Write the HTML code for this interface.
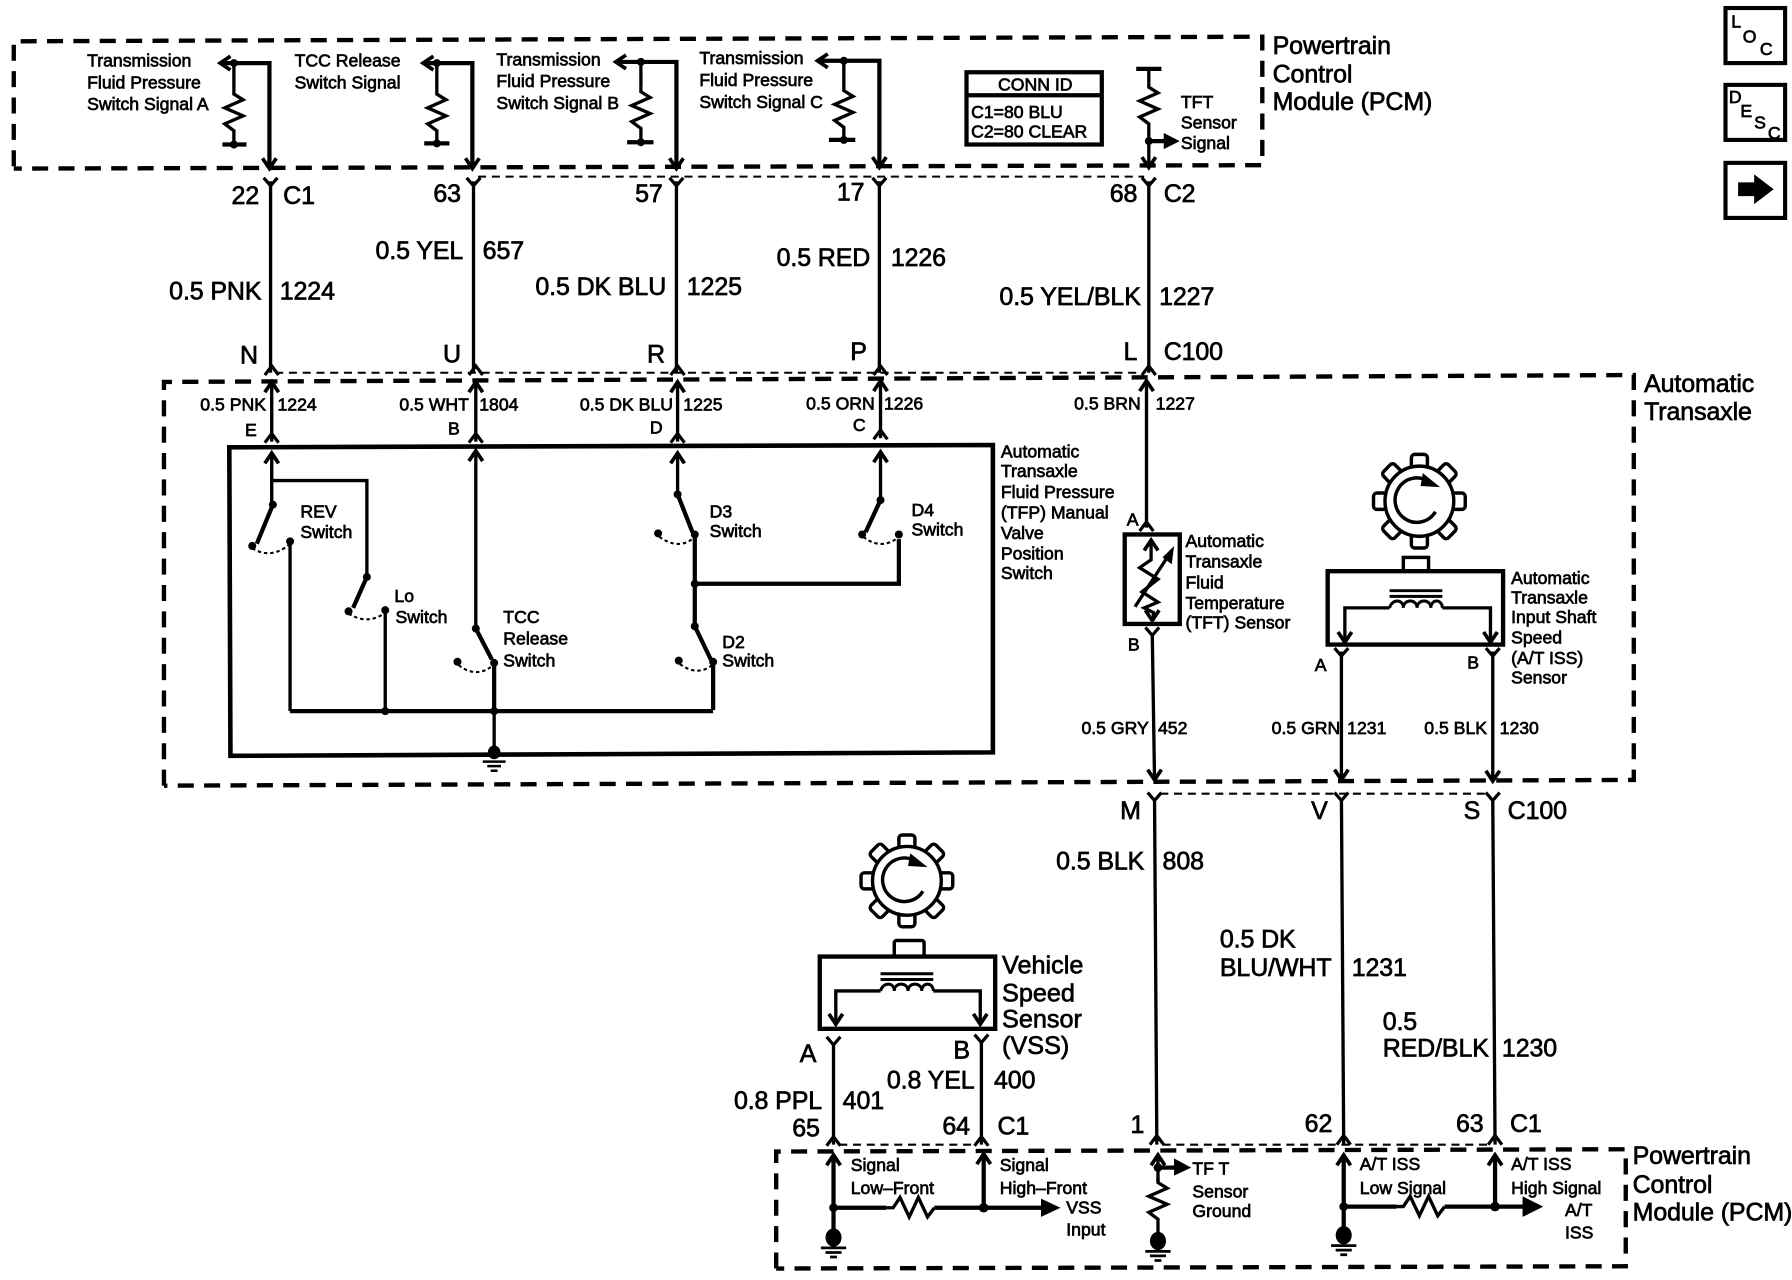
<!DOCTYPE html>
<html lang="en">
<head>
<meta charset="utf-8">
<title>Transmission wiring diagram</title>
<style>
html,body{margin:0;padding:0;background:#fff;width:1792px;height:1280px;overflow:hidden}
svg{display:block}
text{font-family:"Liberation Sans",sans-serif;fill:#000;stroke:#000;stroke-width:.6}
.s{font-size:15.4px}
.m{font-size:21.8px;letter-spacing:-.1px}
.v{font-size:22px}
.e{text-anchor:end}
.w{fill:none;stroke:#000;stroke-width:2.9;stroke-linejoin:miter}
.t{fill:none;stroke:#000;stroke-width:3.7}
.d{fill:none;stroke:#000;stroke-width:3.8;stroke-dasharray:14 9}
.h{fill:none;stroke:#000;stroke-width:1.8;stroke-dasharray:7 5}
.a{fill:none;stroke:#000;stroke-width:1.8;stroke-dasharray:3 2.5}
</style>
</head>
<body>
<svg xmlns="http://www.w3.org/2000/svg" width="1792" height="1280" viewBox="0 0 1563 1116" preserveAspectRatio="none">
<defs>
<path id="Y" d="M-6-9 0-2 6-9" fill="none" stroke="#000" stroke-width="2.8"/>
<path id="U" d="M-6 5 0-3 6 5" fill="none" stroke="#000" stroke-width="2.8"/>
<path id="dn" d="M-6-9 0 0 6-9" fill="none" stroke="#000" stroke-width="3.2"/>
<path id="up" d="M-6 9 0 0 6 9" fill="none" stroke="#000" stroke-width="3.2"/>
<path id="lf" d="M9-6 0 0 9 6" fill="none" stroke="#000" stroke-width="3.2"/>
<path id="R" d="M0 0 0 4 8 9-8 16 8 23-8 30 0 36 0 48" fill="none" stroke="#000" stroke-width="2.9"/>
<path id="RH" d="M0 0 6 0 12-9 20 8 28-9 36 8 42 0" fill="none" stroke="#000" stroke-width="2.9"/>
<g id="gnd"><ellipse cx="0" cy="0" rx="7" ry="8"/><path d="M-11 9H11M-7 13H7M-3 17H3" stroke="#000" stroke-width="2.4" fill="none"/></g>
<g id="gear" fill="#fff" stroke="#000" stroke-width="3">
<rect x="-7" y="-40" width="14" height="12" rx="3"/>
<rect x="-7" y="-40" width="14" height="12" rx="3" transform="rotate(45)"/>
<rect x="-7" y="-40" width="14" height="12" rx="3" transform="rotate(90)"/>
<rect x="-7" y="-40" width="14" height="12" rx="3" transform="rotate(135)"/>
<rect x="-7" y="-40" width="14" height="12" rx="3" transform="rotate(180)"/>
<rect x="-7" y="-40" width="14" height="12" rx="3" transform="rotate(225)"/>
<rect x="-7" y="-40" width="14" height="12" rx="3" transform="rotate(270)"/>
<rect x="-7" y="-40" width="14" height="12" rx="3" transform="rotate(315)"/>
<circle r="30"/>
<path d="M14 9A19 19 0 1 1 8-17" fill="none"/>
<path d="M3-24 18-12 1-13Z" fill="#000" stroke="none"/>
</g>
<g id="coil" fill="none" stroke="#000" stroke-width="2.6">
<path d="M0-15H46M0-10H46" />
<path d="M0 0C2-8 12-8 12 0 12-8 24-8 24 0 24-8 36-8 36 0 36-8 46-8 46 0"/>
</g>
</defs>

<!-- dashed enclosures -->
<path class="d" d="M12 145V36L1101 32V144L12 147"/>
<path class="d" d="M143 685V333L1425 327V680L143 685"/>
<path class="d" d="M677 1106V1004L1418 1002V1104L677 1106"/>

<!-- thin connector dashes -->
<path class="h" d="M417 154H998"/>
<path class="h" d="M240 325H995"/>
<path class="h" d="M1012 692H1298"/>
<path class="h" d="M732 998H850M1014 998H1300"/>

<!-- top PCM internals -->
<path class="t" d="M192 55H235V146"/><use href="#lf" x="192" y="55"/><use href="#dn" x="235" y="147"/>
<circle cx="204" cy="55" r="3.5"/><path class="w" d="M204 55V78"/><use href="#R" x="204" y="78"/><path class="t" d="M194 126H215"/><circle cx="204" cy="126" r="3.5"/>

<path class="t" d="M369 55H412V146"/><use href="#lf" x="369" y="55"/><use href="#dn" x="412" y="147"/>
<circle cx="381" cy="55" r="3.5"/><path class="w" d="M381 55V78"/><use href="#R" x="381" y="78"/><path class="t" d="M370 125H392"/><circle cx="381" cy="125" r="3.5"/>

<path class="t" d="M537 54H590V146"/><use href="#lf" x="537" y="54"/><use href="#dn" x="590" y="147"/>
<circle cx="559" cy="54" r="3.5"/><path class="w" d="M559 54V76"/><use href="#R" x="559" y="76"/><path class="t" d="M547 124H570"/><circle cx="559" cy="124" r="3.5"/>

<path class="t" d="M713 53H767V146"/><use href="#lf" x="713" y="53"/><use href="#dn" x="767" y="146"/>
<circle cx="736" cy="53" r="3.5"/><path class="w" d="M736 53V75"/><use href="#R" x="736" y="75"/><path class="t" d="M723 122H746"/><circle cx="736" cy="122" r="3.5"/>

<path class="t" d="M991 60H1013"/><path class="w" d="M1002 60V72"/><use href="#R" x="1002" y="72"/><path class="w" d="M1002 120V146"/>
<use href="#dn" x="1002" y="146"/><circle cx="1002" cy="123" r="3.5"/><path class="t" d="M1002 123H1016"/><path d="M1015 116 1029 123 1015 130Z"/>

<rect class="t" x="843" y="63" width="118" height="63"/><path class="t" d="M843 83H961"/>
<text class="s" x="903" y="79" text-anchor="middle">CONN ID</text>
<text class="s" x="847" y="103">C1=80 BLU</text>
<text class="s" x="847" y="120">C2=80 CLEAR</text>

<text class="s" x="76" y="58">Transmission</text><text class="s" x="76" y="77">Fluid Pressure</text><text class="s" x="76" y="96">Switch Signal A</text>
<text class="s" x="257" y="58">TCC Release</text><text class="s" x="257" y="77">Switch Signal</text>
<text class="s" x="433" y="57">Transmission</text><text class="s" x="433" y="76">Fluid Pressure</text><text class="s" x="433" y="95">Switch Signal B</text>
<text class="s" x="610" y="56">Transmission</text><text class="s" x="610" y="75">Fluid Pressure</text><text class="s" x="610" y="94">Switch Signal C</text>
<text class="s" x="1030" y="94">TFT</text><text class="s" x="1030" y="112">Sensor</text><text class="s" x="1030" y="130">Signal</text>
<text class="m" x="1110" y="47">Powertrain</text><text class="m" x="1110" y="72">Control</text><text class="m" x="1110" y="96">Module (PCM)</text>

<!-- icon boxes -->
<rect x="1505" y="7" width="52" height="48" fill="none" stroke="#000" stroke-width="3.6"/>
<text class="s" x="1510" y="24">L</text><text class="s" x="1520" y="37">O</text><text class="s" x="1535" y="48">C</text>
<rect x="1505" y="74" width="52" height="48" fill="none" stroke="#000" stroke-width="3.6"/>
<text class="s" x="1508" y="90">D</text><text class="s" x="1518" y="102">E</text><text class="s" x="1530" y="112">S</text><text class="s" x="1542" y="121">C</text>
<rect x="1505" y="142" width="52" height="48" fill="none" stroke="#000" stroke-width="3.6"/>
<path d="M1516 159H1530V152L1547 165 1530 178V171H1516Z"/>

<!-- top wires -->
<path class="w" d="M236 158V325M413 158V325M590 158V325M767 158V325M1002 158V325"/>
<use href="#Y" x="236" y="164"/><use href="#Y" x="413" y="164"/><use href="#Y" x="590" y="164"/><use href="#Y" x="767" y="164"/><use href="#Y" x="1002" y="164"/>
<use href="#U" x="237" y="322"/><use href="#U" x="415" y="322"/><use href="#U" x="591" y="322"/><use href="#U" x="768" y="322"/><use href="#U" x="1002" y="322"/>

<text class="m e" x="226" y="178">22</text><text class="m" x="247" y="178">C1</text>
<text class="m e" x="402" y="176">63</text><text class="m e" x="578" y="176">57</text><text class="m e" x="754" y="175">17</text>
<text class="m e" x="992" y="176">68</text><text class="m" x="1015" y="176">C2</text>
<text class="m e" x="228" y="261">0.5 PNK</text><text class="m" x="244" y="261">1224</text>
<text class="m e" x="404" y="226">0.5 YEL</text><text class="m" x="421" y="226">657</text>
<text class="m e" x="581" y="257">0.5 DK BLU</text><text class="m" x="599" y="257">1225</text>
<text class="m e" x="759" y="232">0.5 RED</text><text class="m" x="777" y="232">1226</text>
<text class="m e" x="995" y="266">0.5 YEL/BLK</text><text class="m" x="1011" y="266">1227</text>
<text class="m e" x="225" y="317">N</text><text class="m e" x="402" y="316">U</text><text class="m e" x="580" y="316">R</text><text class="m e" x="756" y="314">P</text>
<text class="m e" x="992" y="314">L</text><text class="m" x="1015" y="314">C100</text>

<!-- transaxle upper wires -->
<path class="w" d="M237 333V385M415 333V385M591 333V385M768 333V382M1000 333V460"/>
<use href="#up" x="237" y="333"/><use href="#up" x="415" y="333"/><use href="#up" x="591" y="333"/><use href="#up" x="768" y="332"/><use href="#up" x="1000" y="332"/>
<use href="#U" x="237" y="381"/><use href="#U" x="415" y="381"/><use href="#U" x="591" y="381"/><use href="#U" x="768" y="378"/><use href="#U" x="1000" y="458"/>
<text class="s e" x="232" y="358">0.5 PNK</text><text class="s" x="242" y="358">1224</text>
<text class="s e" x="409" y="358">0.5 WHT</text><text class="s" x="418" y="358">1804</text>
<text class="s e" x="587" y="358">0.5 DK BLU</text><text class="s" x="596" y="358">1225</text>
<text class="s e" x="763" y="357">0.5 ORN</text><text class="s" x="771" y="357">1226</text>
<text class="s e" x="995" y="357">0.5 BRN</text><text class="s" x="1008" y="357">1227</text>
<text class="s e" x="224" y="380">E</text><text class="s e" x="401" y="379">B</text><text class="s e" x="578" y="378">D</text><text class="s e" x="755" y="376">C</text>

<!-- TFP switch box -->
<path d="M200 390 866 388V656L201 659Z" fill="none" stroke="#000" stroke-width="4"/>
<use href="#up" x="237" y="395"/><use href="#up" x="415" y="393"/><use href="#up" x="591" y="395"/><use href="#up" x="768" y="394"/>
<path class="w" d="M237 395V440M237 419H320V503M415 393V548M591 395V431M768 394V436"/>
<!-- REV -->
<circle cx="238" cy="440" r="3.5"/><path class="t" d="M238 440 224 474"/><circle cx="220" cy="476" r="3.5"/><circle cx="253" cy="472" r="3.5"/>
<path class="a" d="M220 478Q236 488 252 475"/><path class="w" d="M253 472V620"/>
<!-- Lo -->
<circle cx="320" cy="503" r="3.5"/><path class="t" d="M320 503 308 530"/><circle cx="304" cy="533" r="3.5"/><circle cx="336" cy="532" r="3.5"/>
<path class="a" d="M304 535Q320 545 335 535"/><path class="w" d="M336 532V620"/>
<!-- TCC -->
<circle cx="415" cy="548" r="3.5"/><path class="t" d="M415 548 429 575"/><circle cx="431" cy="578" r="3.5"/><circle cx="399" cy="577" r="3.5"/>
<path class="a" d="M400 580Q416 592 430 580"/><path class="t" d="M431 578V620"/><path class="w" d="M431 620V656"/>
<!-- D3 -->
<circle cx="591" cy="431" r="3.5"/><path class="t" d="M591 431 604 464"/><circle cx="606" cy="466" r="3.5"/><circle cx="574" cy="465" r="3.5"/>
<path class="a" d="M575 468Q592 480 605 469"/><path class="t" d="M606 466V546M606 509H784V470"/><circle cx="606" cy="509" r="3.5"/>
<!-- D4 -->
<circle cx="768" cy="436" r="3.5"/><path class="t" d="M768 436 755 464"/><circle cx="752" cy="466" r="3.5"/><circle cx="784" cy="466" r="3.5"/>
<path class="a" d="M753 468Q768 480 783 469"/>
<!-- D2 -->
<circle cx="606" cy="546" r="3.5"/><path class="t" d="M606 546 620 575"/><circle cx="622" cy="577" r="3.5"/><circle cx="592" cy="576" r="3.5"/>
<path class="a" d="M593 579Q608 590 621 580"/><path class="t" d="M622 577V619M253 620H622"/>
<circle cx="336" cy="620" r="3.5"/><circle cx="431" cy="620" r="3.5"/>
<ellipse cx="431" cy="656" rx="5.5" ry="6"/><path d="M421 664H441M425 668H437M428 672H434" stroke="#000" stroke-width="2.2" fill="none"/>

<text class="s" x="262" y="451">REV</text><text class="s" x="262" y="469">Switch</text>
<text class="s" x="344" y="525">Lo</text><text class="s" x="345" y="543">Switch</text>
<text class="s" x="439" y="543">TCC</text><text class="s" x="439" y="562">Release</text><text class="s" x="439" y="581">Switch</text>
<text class="s" x="619" y="451">D3</text><text class="s" x="619" y="468">Switch</text>
<text class="s" x="795" y="450">D4</text><text class="s" x="795" y="467">Switch</text>
<text class="s" x="630" y="565">D2</text><text class="s" x="630" y="581">Switch</text>
<text class="s" x="873" y="399">Automatic</text><text class="s" x="873" y="416">Transaxle</text><text class="s" x="873" y="434">Fluid Pressure</text><text class="s" x="873" y="452">(TFP) Manual</text><text class="s" x="873" y="470">Valve</text><text class="s" x="873" y="488">Position</text><text class="s" x="873" y="505">Switch</text>

<!-- TFT sensor -->
<rect x="981" y="466" width="48" height="78" fill="none" stroke="#000" stroke-width="3.8"/>
<use href="#up" x="1004" y="471"/><use href="#dn" x="1005" y="541"/>
<path class="w" d="M1004 471V488L994 495 1010 505 996 516 1010 525 998 530 1006 534V541"/>
<path class="w" d="M990 529 1020 483"/><path d="M1024 476 1022 492 1014 486Z"/>
<text class="s e" x="993" y="458">A</text><text class="s e" x="994" y="567">B</text>
<text class="s" x="1034" y="477">Automatic</text><text class="s" x="1034" y="495">Transaxle</text><text class="s" x="1034" y="513">Fluid</text><text class="s" x="1034" y="531">Temperature</text><text class="s" x="1034" y="548">(TFT) Sensor</text>
<path class="w" d="M1005 552 1007 680"/><use href="#Y" x="1005" y="556"/><use href="#dn" x="1007" y="680"/>
<text class="s e" x="1002" y="640">0.5 GRY</text><text class="s" x="1010" y="640">452</text>

<!-- ISS sensor -->
<use href="#gear" transform="translate(1238 437) scale(1 1.02)"/>
<rect x="1224" y="486" width="22" height="12" fill="none" stroke="#000" stroke-width="3"/>
<rect x="1158" y="498" width="153" height="64" fill="none" stroke="#000" stroke-width="3.8"/>
<use href="#coil" x="1212" y="530"/>
<path class="w" d="M1212 530H1173V558M1258 530H1300V558"/><use href="#dn" x="1173" y="560"/><use href="#dn" x="1300" y="560"/>
<path class="w" d="M1170 568V678M1302 568V680"/><use href="#Y" x="1170" y="574"/><use href="#Y" x="1302" y="574"/><use href="#dn" x="1170" y="680"/><use href="#dn" x="1302" y="681"/>
<text class="s e" x="1157" y="585">A</text><text class="s e" x="1290" y="583">B</text>
<text class="s e" x="1169" y="640">0.5 GRN</text><text class="s" x="1175" y="640">1231</text>
<text class="s e" x="1297" y="640">0.5 BLK</text><text class="s" x="1308" y="640">1230</text>
<text class="s" x="1318" y="509">Automatic</text><text class="s" x="1318" y="526">Transaxle</text><text class="s" x="1318" y="543">Input Shaft</text><text class="s" x="1318" y="561">Speed</text><text class="s" x="1318" y="579">(A/T ISS)</text><text class="s" x="1318" y="596">Sensor</text>
<text class="m" x="1434" y="342">Automatic</text><text class="m" x="1434" y="366">Transaxle</text>

<!-- mid wires -->
<path class="w" d="M1007 696 1009 998M1170 696 1172 998M1302 696 1304 998"/>
<use href="#Y" x="1007" y="700"/><use href="#Y" x="1170" y="700"/><use href="#Y" x="1302" y="700"/>
<use href="#U" x="1009" y="993"/><use href="#U" x="1172" y="993"/><use href="#U" x="1304" y="993"/>
<text class="m e" x="995" y="714">M</text><text class="m e" x="1158" y="714">V</text><text class="m e" x="1291" y="714">S</text><text class="m" x="1315" y="714">C100</text>
<text class="m e" x="998" y="758">0.5 BLK</text><text class="m" x="1014" y="758">808</text>
<text class="m" x="1064" y="826">0.5 DK</text><text class="m" x="1064" y="851">BLU/WHT</text><text class="m" x="1179" y="851">1231</text>
<text class="m" x="1206" y="898">0.5</text><text class="m" x="1206" y="921">RED/BLK</text><text class="m" x="1310" y="921">1230</text>
<text class="m e" x="998" y="988">1</text><text class="m e" x="1162" y="987">62</text><text class="m e" x="1294" y="987">63</text><text class="m" x="1317" y="987">C1</text>

<!-- VSS -->
<use href="#gear" x="791" y="768"/>
<rect x="780" y="820" width="26" height="14" rx="2" fill="none" stroke="#000" stroke-width="3"/>
<rect x="715" y="834" width="153" height="63" fill="none" stroke="#000" stroke-width="3.8"/>
<use href="#coil" x="768" y="864"/>
<path class="w" d="M768 864H729V891M814 864H855V891"/><use href="#dn" x="729" y="893"/><use href="#dn" x="855" y="893"/>
<text class="v" x="874" y="849">Vehicle</text><text class="v" x="874" y="873">Speed</text><text class="v" x="874" y="896">Sensor</text><text class="v" x="874" y="919">(VSS)</text>
<path class="w" d="M727 910 727 998M856 908 856 998"/><use href="#Y" x="727" y="913"/><use href="#Y" x="856" y="911"/>
<use href="#U" x="727" y="994"/><use href="#U" x="856" y="994"/>
<text class="m e" x="712" y="926">A</text><text class="m e" x="846" y="923">B</text>
<text class="m e" x="850" y="949">0.8 YEL</text><text class="m" x="867" y="949">400</text>
<text class="m e" x="717" y="967">0.8 PPL</text><text class="m" x="735" y="967">401</text>
<text class="m e" x="715" y="991">65</text><text class="m e" x="846" y="989">64</text><text class="m" x="870" y="989">C1</text>

<!-- bottom PCM -->
<use href="#up" x="727" y="1007"/><use href="#up" x="858" y="1006"/><use href="#up" x="1010" y="1007"/><use href="#up" x="1172" y="1007"/><use href="#up" x="1304" y="1007"/>
<path class="t" d="M727 1007V1072M858 1006V1053M1172 1007V1070M1304 1007V1052"/>
<path class="t" d="M727 1053H773M815 1053H910M1172 1052H1218M1260 1052H1330"/>
<use href="#RH" x="773" y="1053"/><use href="#RH" x="1218" y="1052"/>
<circle cx="727" cy="1053" r="3.8"/><circle cx="858" cy="1053" r="4.2"/><circle cx="1172" cy="1052" r="3.8"/><circle cx="1304" cy="1052" r="4.2"/>
<path d="M908 1045 925 1053 908 1061Z"/><path d="M1328 1043 1346 1052 1328 1061Z"/>
<use href="#gnd" x="727" y="1079"/><use href="#gnd" x="1172" y="1077"/><use href="#gnd" x="1010" y="1082"/>
<path class="w" d="M1010 1007V1030"/><use href="#R" x="1010" y="1027"/>
<circle cx="1010" cy="1018" r="3.8"/><path class="t" d="M1010 1018H1026"/><path d="M1024 1010 1039 1018 1024 1025Z"/>
<text class="s" x="742" y="1021">Signal</text><text class="s" x="742" y="1041">Low–Front</text>
<text class="s" x="872" y="1021">Signal</text><text class="s" x="872" y="1041">High–Front</text>
<text class="s" x="930" y="1058">VSS</text><text class="s" x="930" y="1077">Input</text>
<text class="s" x="1040" y="1024">TF T</text><text class="s" x="1040" y="1044">Sensor</text><text class="s" x="1040" y="1061">Ground</text>
<text class="s" x="1186" y="1020">A/T ISS</text><text class="s" x="1186" y="1041">Low Signal</text>
<text class="s" x="1318" y="1020">A/T ISS</text><text class="s" x="1318" y="1041">High Signal</text>
<text class="s" x="1365" y="1060">A/T</text><text class="s" x="1365" y="1080">ISS</text>
<text class="m" x="1424" y="1015">Powertrain</text><text class="m" x="1424" y="1040">Control</text><text class="m" x="1424" y="1064">Module (PCM)</text>
</svg>
</body>
</html>
